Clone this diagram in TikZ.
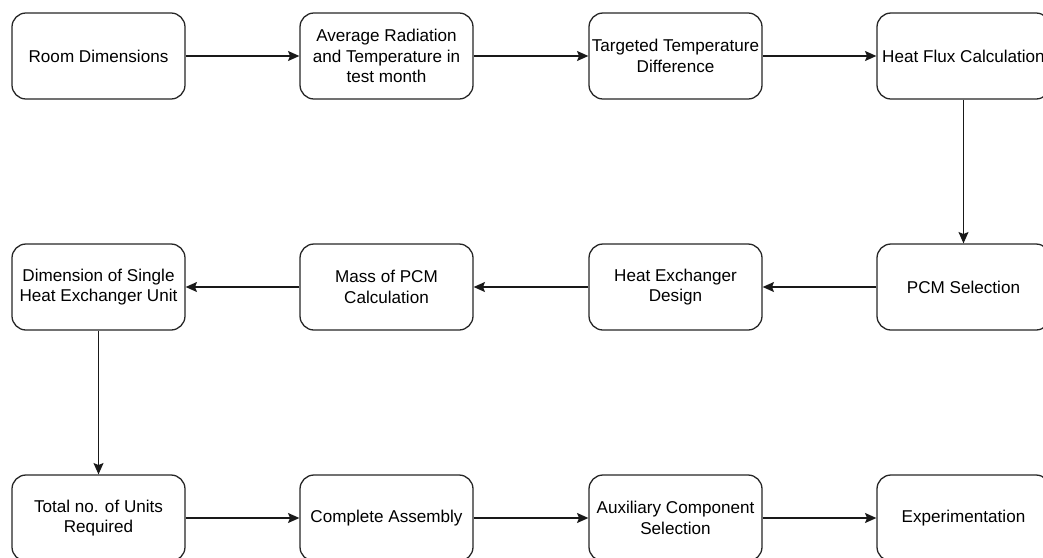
\documentclass[tikz,border=0pt]{standalone}
\usepackage{fontspec}
\setmainfont{Liberation Sans}
\usepackage{tikz}
\usetikzlibrary{positioning,arrows.meta}
\tikzset{
  stage/.style={draw=black!85, line width=1.1pt, rounded corners=0.42cm, fill=white, minimum height=2.58cm, minimum width=5.19cm, font=\fontsize{14.6}{17.4}\selectfont, align=center, inner sep=0pt},
  flow/.style={-{Stealth[length=0.34cm, width=0.3cm, inset=0.06cm]}, line width=1.1pt, draw=black!90},
}
\begin{document}
\begin{tikzpicture}
\useasboundingbox (0,0) rectangle (31.29,-16.71);
\clip (0,0) rectangle (31.29,-16.71);
% first row
\node[stage] (room)  at (2.955,-1.68) {Room Dimensions};
\node[stage] (avg)   at (11.595,-1.68) {Average Radiation\\and Temperature in\\test month};
\node[stage] (tdiff) at (20.265,-1.68) {Targeted Temperature\\Difference};
\node[stage] (flux)  at (28.905,-1.68) {Heat Flux Calculation};
% second row
\node[stage] (dims)  at (2.955,-8.61) {Dimension of Single\\Heat Exchanger Unit};
\node[stage] (mass)  at (11.595,-8.61) {Mass of PCM\\Calculation};
\node[stage] (hex)   at (20.265,-8.61) {Heat Exchanger\\Design};
\node[stage] (pcm)   at (28.905,-8.61) {PCM Selection};
% third row
\node[stage] (units) at (2.955,-15.54) {Total no. of Units\\Required};
\node[stage] (asm)   at (11.595,-15.54) {Complete Assembly};
\node[stage] (aux)   at (20.265,-15.54) {Auxiliary Component\\Selection};
\node[stage] (expt)  at (28.905,-15.54) {Experimentation};
\draw[flow] (room) -- (avg);
\draw[flow] (avg) -- (tdiff);
\draw[flow] (tdiff) -- (flux);
\draw[flow] (flux) -- (pcm);
\draw[flow] (pcm) -- (hex);
\draw[flow] (hex) -- (mass);
\draw[flow] (mass) -- (dims);
\draw[flow] (dims) -- (units);
\draw[flow] (units) -- (asm);
\draw[flow] (asm) -- (aux);
\draw[flow] (aux) -- (expt);
\end{tikzpicture}
\end{document}
